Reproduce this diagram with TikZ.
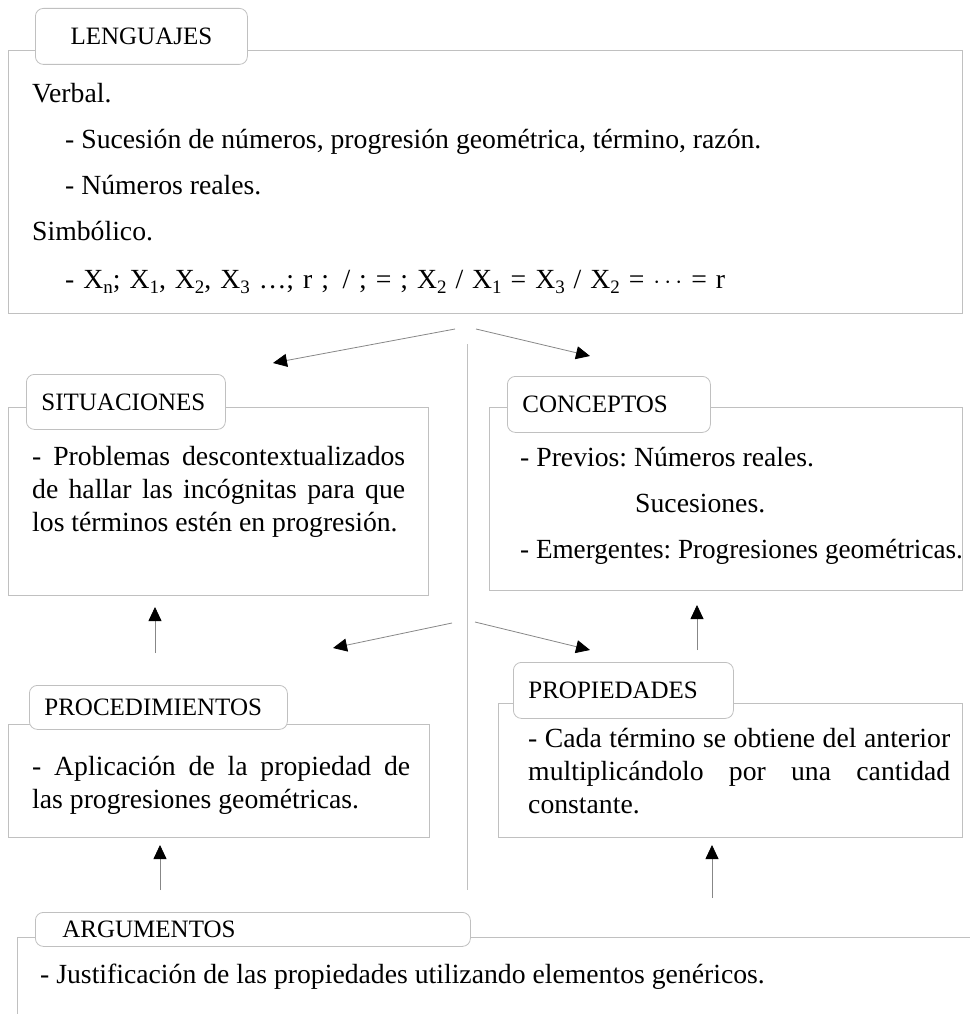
\documentclass[tikz,border=0pt]{standalone}
\usepackage{fontspec}
\setmainfont{Liberation Serif}
\usetikzlibrary{arrows.meta}
\definecolor{boxline}{RGB}{192,192,192}
\definecolor{arrline}{RGB}{135,135,135}
\newcommand{\bodyfont}{\fontsize{27.7}{33}\selectfont}
\newcommand{\tabfont}{\fontsize{25}{30}\selectfont}
\newcommand{\xs}[1]{X\raisebox{-5pt}{\fontsize{19}{19}\selectfont #1}}
\frenchspacing

\begin{document}
\begin{tikzpicture}[x=1pt,y=-1pt,
  box/.style={draw=boxline,line width=0.8pt,anchor=north west,inner sep=0pt},
  tab/.style={draw=boxline,line width=0.8pt,fill=white,rounded corners=8pt,anchor=north west,
    inner ysep=0pt,inner xsep=15pt,font=\tabfont,align=left,text height=17pt,text depth=0pt},
  txt/.style={anchor=base west,inner sep=0pt,font=\bodyfont},
  para/.style={anchor=north west,inner sep=0pt,font=\bodyfont,align=justify},
  arr/.style={draw=arrline,line width=0.8pt,-{Triangle[color=black,length=14pt,width=13pt]}}]
\useasboundingbox (0,0) rectangle (969,1014);

\node[box,minimum width=954pt,minimum height=263pt] (LEN) at (8,50) {};
\node[box,minimum width=420pt,minimum height=188pt] (SIT) at (8,407) {};
\node[box,minimum width=473pt,minimum height=183pt] (CON) at (489,407) {};
\node[box,minimum width=421pt,minimum height=113pt] (PROC) at (8,724) {};
\node[box,minimum width=464pt,minimum height=134pt] (PROP) at (498,703) {};
\node[box,minimum width=970pt,minimum height=100pt] (ARG) at (17,937) {};

\node[tab,text width=182pt,align=center,minimum height=56pt] (LENt) at (35,8) {LENGUAJES};
\node[tab,text width=169pt,minimum height=55pt] (SITt) at (26,374) {SITUACIONES};
\node[tab,text width=173pt,minimum height=56pt] (CONt) at (507,376) {CONCEPTOS};
\node[tab,text width=228pt,minimum height=44pt] (PROCt) at (29,685) {PROCEDIMIENTOS};
\node[tab,text width=190pt,minimum height=56pt] (PROPt) at (513,662) {PROPIEDADES};
\node[tab,minimum height=34pt,inner xsep=27pt,text width=381pt] (ARGt) at (35,912) {ARGUMENTOS};

\node[txt] (v) at (32,103) {Verbal.};
\node[txt] (v1) at (65,148) {- Sucesión de números, progresión geométrica, término, razón.};
\node[txt] (v2) at (65,194) {- Números reales.};
\node[txt] (s) at (32,240) {Simbólico.};
\node[txt] (s1) at (65,288) {\makebox[660pt][s]{- \xs{n}; \xs{1}, \xs{2}, \xs{3} …; r ;\, / ; = ; \xs{2} / \xs{1} = \xs{3} / \xs{2} = $\cdots$ = r}};

\node[para,text width=373pt] (SITx) at (32,441.9) {\strut - Problemas descontextualizados\linebreak de hallar las incógnitas para que\linebreak los términos estén en progresión.};

\node[txt] (c1) at (520,466) {- Previos: Números reales.};
\node[txt] (c2) at (635,512) {Sucesiones.};
\node[txt] (c3) at (520,558) {\scalebox{0.98}[1]{- Emergentes: Progresiones geométricas.}};

\node[para,text width=378pt] (PROCx) at (32,751.9) {\strut - Aplicación de la propiedad de\linebreak las progresiones geométricas.};
\node[para,text width=422pt] (PROPx) at (528,723.9) {\strut - Cada término se obtiene del anterior\linebreak multiplicándolo por una cantidad\linebreak constante.};

\node[txt] (a) at (40,983) {- Justificación de las propiedades utilizando elementos genéricos.};

\coordinate (l1) at (455,329);
\coordinate (ls) at (273,363);
\coordinate (l2) at (476,329);
\coordinate (lc) at (590,356);
\coordinate (m1) at (452,623);
\coordinate (mp) at (333,648);
\coordinate (m2) at (475,622);
\coordinate (mq) at (590,650);
\coordinate (p1) at (155,653);
\coordinate (ps) at (155,607);
\coordinate (q1) at (697,650);
\coordinate (qc) at (697,605);
\coordinate (a1) at (160,890);
\coordinate (ap) at (160,845);
\coordinate (a2) at (712,898);
\coordinate (aq) at (712,845);
\coordinate (mt) at (467,344);
\coordinate (mb) at (467,890);

\draw[draw=boxline,line width=0.8pt] (mt) -- (mb);
\draw[arr] (l1) -- (ls);
\draw[arr] (l2) -- (lc);
\draw[arr] (m1) -- (mp);
\draw[arr] (m2) -- (mq);
\draw[arr] (p1) -- (ps);
\draw[arr] (q1) -- (qc);
\draw[arr] (a1) -- (ap);
\draw[arr] (a2) -- (aq);
\end{tikzpicture}
\end{document}
